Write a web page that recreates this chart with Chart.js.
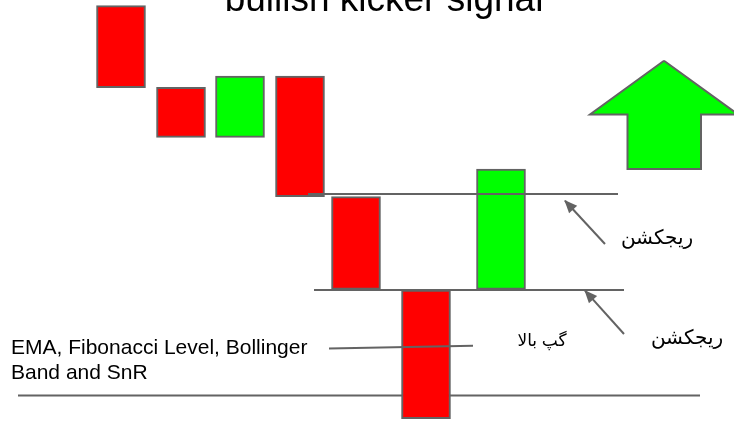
<!DOCTYPE html>
<html lang="en">
<head>
  <meta charset="UTF-8">
  <title>bullish kicker signal</title>
  <script src="https://cdn.jsdelivr.net/npm/chart.js"></script>
  <style>
    body {
      margin: 0;
      background: #fff;
    }
    #wrap {
      width: 734px;
      height: 422px;
    }
  </style>
</head>
<body>
  <div id="wrap"><canvas id="chart" width="734" height="422"></canvas></div>

  <script>
    // candles (time position, open, close) - price grows upwards
    const candleTime  = [121, 181, 240, 300, 356, 426, 501];
    const candleOpen  = [416.3, 334.7, 284.7, 346, 225.3, 132, 132.7];
    const candleClose = [334.3, 284.7, 346, 225.3, 132.7, 3.3, 253];

    // horizontal levels
    const levelPrice = [228, 132, 26.5];
    const levelFrom  = [308, 314, 18];
    const levelTo    = [618, 624, 700];

    // pointer from the indicator note to the gap candle
    const noteLineTime  = [329, 473];
    const noteLinePrice = [73.5, 76.3];

    // rejection arrows (tail -> tip)
    const arrowTailTime  = [605, 624];
    const arrowTailPrice = [178, 88];
    const arrowTipTime   = [565, 585];
    const arrowTipPrice  = [221.3, 131.3];

    // big "up" arrow outline
    const upArrowTime  = [664, 590, 627.5, 627.5, 701, 701, 738, 664];
    const upArrowPrice = [361.3, 307.5, 307.5, 253, 253, 307.5, 307.5, 361.3];

    const titleText = "bullish kicker signal";
    const rejectLabel = "ریجکشن";
    const gapLabel = "گپ بالا";
    const noteLines = ["EMA, Fibonacci Level, Bollinger", "Band and SnR"];

    const RED = "#ff0000";
    const GREEN = "#00ff00";
    const GREY = "#636363";
    const FONT = "'Liberation Sans', Arial, 'DejaVu Sans', sans-serif";

    const datasets = [];

    datasets.push({
      type: 'bar',
      label: 'candles',
      data: candleTime.map((t, i) => ({ x: t, y: [candleOpen[i], candleClose[i]] })),
      backgroundColor: candleTime.map((t, i) => candleClose[i] > candleOpen[i] ? GREEN : RED),
      borderColor: GREY,
      borderWidth: 2,
      borderSkipped: false,
      barThickness: 49,
      order: 2
    });

    levelPrice.forEach((p, i) => {
      datasets.push({
        type: 'line',
        data: [{ x: levelFrom[i], y: p }, { x: levelTo[i], y: p }],
        borderColor: GREY,
        borderWidth: 2,
        fill: false,
        // the lowest level sits behind the candles
        order: i === 2 ? 3 : 1
      });
    });

    datasets.push({
      type: 'line',
      data: noteLineTime.map((t, i) => ({ x: t, y: noteLinePrice[i] })),
      borderColor: GREY,
      borderWidth: 2,
      fill: false,
      order: 1
    });

    arrowTailTime.forEach((t, i) => {
      datasets.push({
        type: 'line',
        data: [{ x: t, y: arrowTailPrice[i] }, { x: arrowTipTime[i], y: arrowTipPrice[i] }],
        borderColor: GREY,
        borderWidth: 2,
        fill: false,
        arrowHead: true,
        order: 1
      });
    });

    datasets.push({
      type: 'line',
      data: upArrowTime.map((t, i) => ({ x: t, y: upArrowPrice[i] })),
      borderColor: GREY,
      backgroundColor: GREEN,
      borderWidth: 2,
      fill: 'shape',
      order: 1
    });

    const overlay = {
      id: 'overlay',
      afterDatasetsDraw(chart) {
        const ctx = chart.ctx;
        const x = chart.scales.x;
        const y = chart.scales.y;

        // arrow heads at the end of the arrow lines
        chart.data.datasets.forEach((ds, i) => {
          if (!ds.arrowHead) return;
          const pts = chart.getDatasetMeta(i).data;
          const a = pts[pts.length - 2];
          const b = pts[pts.length - 1];
          const ang = Math.atan2(b.y - a.y, b.x - a.x);
          ctx.save();
          ctx.fillStyle = ds.borderColor;
          ctx.translate(b.x, b.y);
          ctx.rotate(ang);
          ctx.beginPath();
          ctx.moveTo(1, 0);
          ctx.lineTo(-12, -5.5);
          ctx.lineTo(-12, 5.5);
          ctx.closePath();
          ctx.fill();
          ctx.restore();
        });

        ctx.save();
        ctx.fillStyle = "#000";

        ctx.font = "37px " + FONT;
        ctx.textAlign = "center";
        ctx.textBaseline = "alphabetic";
        ctx.fillText(titleText, x.getPixelForValue(384), y.getPixelForValue(411));

        ctx.direction = "rtl";
        ctx.textBaseline = "middle";
        ctx.font = "20px " + FONT;
        ctx.fillText(rejectLabel, x.getPixelForValue(657), y.getPixelForValue(184));
        ctx.fillText(rejectLabel, x.getPixelForValue(687), y.getPixelForValue(84));
        ctx.font = "17px " + FONT;
        ctx.fillText(gapLabel, x.getPixelForValue(542), y.getPixelForValue(81));

        ctx.direction = "ltr";
        ctx.textAlign = "left";
        ctx.textBaseline = "alphabetic";
        ctx.font = "21px " + FONT;
        ctx.fillText(noteLines[0], x.getPixelForValue(11), y.getPixelForValue(67.7));
        ctx.fillText(noteLines[1], x.getPixelForValue(11), y.getPixelForValue(42.7));
        ctx.restore();
      }
    };

    new Chart(document.getElementById("chart"), {
      type: 'line',
      data: { datasets: datasets },
      options: {
        responsive: false,
        animation: false,
        devicePixelRatio: 1,
        events: [],
        layout: { padding: 0 },
        elements: {
          point: { radius: 0, hoverRadius: 0 },
          line: { tension: 0 }
        },
        plugins: {
          legend: { display: false },
          tooltip: { enabled: false },
          title: { display: false }
        },
        scales: {
          x: { type: 'linear', min: 0, max: 734, display: false, offset: false },
          y: { type: 'linear', min: 0, max: 422, display: false }
        }
      },
      plugins: [overlay]
    });
  </script>
</body>
</html>
